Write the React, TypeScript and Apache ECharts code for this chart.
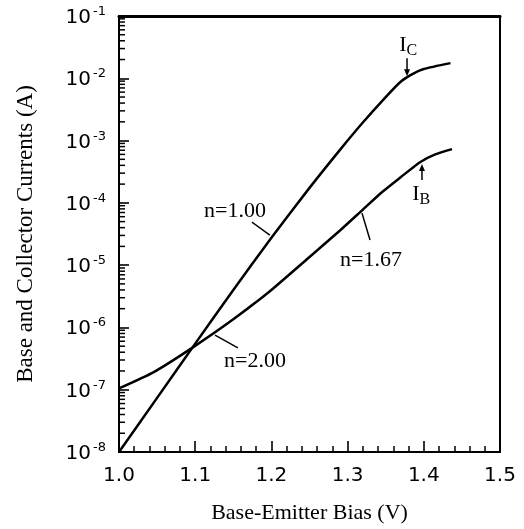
import React, { useEffect, useRef } from 'react';
import * as echarts from 'echarts';

// Collector current I_C vs base-emitter bias
const biasIC = [1.0, 1.05, 1.1, 1.15, 1.2, 1.25, 1.29, 1.32, 1.35, 1.37, 1.385, 1.4, 1.435];
const currentIC = [1.0e-8, 7.4e-8, 5.5e-7, 4.0e-6, 2.75e-5, 1.74e-4, 7.1e-4, 1.95e-3, 5.0e-3, 8.9e-3, 1.17e-2, 1.41e-2, 1.75e-2];

// Base current I_B vs base-emitter bias
const biasIB = [1.0, 1.045, 1.096, 1.15, 1.2, 1.25, 1.29, 1.32, 1.345, 1.37, 1.395, 1.415, 1.437];
const currentIB = [1.05e-7, 1.9e-7, 4.7e-7, 1.35e-6, 4.0e-6, 1.35e-5, 3.6e-5, 7.8e-5, 1.48e-4, 2.6e-4, 4.5e-4, 6.0e-4, 7.3e-4];

// Axis ranges
const xMin = 1.0;
const xMax = 1.5;
const xInterval = 0.1;
const yMin = 1e-8;
const yMax = 1e-1;
const yDecades = [-8, -7, -6, -5, -4, -3, -2];
const minorMultipliers = [2, 3, 4, 5, 6, 7, 8, 9];

// Annotations (data coordinates)
const idealityText = ['n=1.00', 'n=1.67', 'n=2.00'];
const idealityTextAt = [[1.1522, 7.9e-5], [1.3307, 1.3e-5], [1.1785, 3.1e-7]];
const idealityLeaderFrom = [[1.1745, 4.9e-5], [1.3189, 6.85e-5], [1.126, 7.55e-7]];
const idealityLeaderTo = [[1.198, 3.04e-5], [1.3294, 2.53e-5], [1.156, 4.68e-7]];

const currentLabelMain = ['I', 'I'];
const currentLabelSub = ['C', 'B'];
const currentLabelAt = [[1.3727, 3.67e-2], [1.3898, 1.49e-4]];
const arrowTail = [[1.378, 2.1e-2], [1.3976, 2.32e-4]];
const arrowHead = [[1.378, 1.08e-2], [1.3976, 4.2e-4]];

const serif = '"Liberation Serif", "Times New Roman", serif';
const sans = '"DejaVu Sans", sans-serif';

export default function App() {
  const ref = useRef<HTMLDivElement>(null);

  useEffect(() => {
    if (!ref.current) return;
    const chart = echarts.init(ref.current, undefined, { renderer: 'svg' });

    chart.setOption({
      animation: false,
      grid: { left: 119, right: 24, top: 16, bottom: 77 },
      xAxis: [
        {
          type: 'value',
          min: xMin,
          max: xMax,
          interval: xInterval,
          name: 'Base-Emitter Bias (V)',
          nameLocation: 'middle',
          nameGap: 48,
          nameTextStyle: { fontFamily: serif, fontSize: 22, color: '#000' },
          axisLine: { show: true, onZero: false, lineStyle: { color: '#000', width: 2 } },
          axisTick: { show: true, inside: true, length: 11, lineStyle: { color: '#000', width: 1.6 } },
          minorTick: { show: true, splitNumber: 5, length: 6, lineStyle: { color: '#000', width: 1.5 } },
          axisLabel: {
            margin: 12,
            fontFamily: sans,
            fontSize: 20,
            color: '#000',
            formatter: (v: number) => v.toFixed(1),
          },
          splitLine: { show: false },
        },
        {
          type: 'value',
          position: 'top',
          min: xMin,
          max: xMax,
          axisLine: { show: true, onZero: false, lineStyle: { color: '#000', width: 3 } },
          axisTick: { show: false },
          axisLabel: { show: false },
          splitLine: { show: false },
        },
      ],
      yAxis: [
        {
          type: 'log',
          logBase: 10,
          min: yMin,
          max: yMax,
          splitNumber: 7,
          name: 'Base and Collector Currents (A)',
          nameLocation: 'middle',
          nameGap: 83,
          nameTextStyle: { fontFamily: serif, fontSize: 23, color: '#000' },
          axisLine: { show: true, onZero: false, lineStyle: { color: '#000', width: 2 } },
          axisTick: { show: true, inside: true, length: 10, lineStyle: { color: '#000', width: 1.6 } },
          axisLabel: {
            margin: 13,
            formatter: (v: number) => `{b|10}{s|${Math.round(Math.log10(v))}}`,
            rich: {
              b: { fontFamily: sans, fontSize: 20, color: '#000', lineHeight: 24 },
              s: { fontFamily: sans, fontSize: 13, color: '#000', verticalAlign: 'top', lineHeight: 13, padding: [0, 0, 0, 2] },
            },
          },
          splitLine: { show: false },
        },
        {
          type: 'log',
          logBase: 10,
          position: 'right',
          min: yMin,
          max: yMax,
          axisLine: { show: true, onZero: false, lineStyle: { color: '#000', width: 2 } },
          axisTick: { show: false },
          axisLabel: { show: false },
          splitLine: { show: false },
        },
      ],
      series: [
        {
          type: 'line',
          name: 'IC',
          data: biasIC.map((x, i) => [x, currentIC[i]]),
          showSymbol: false,
          smooth: 0.2,
          lineStyle: { color: '#000', width: 2.5 },
          z: 5,
        },
        {
          type: 'line',
          name: 'IB',
          data: biasIB.map((x, i) => [x, currentIB[i]]),
          showSymbol: false,
          smooth: 0.2,
          lineStyle: { color: '#000', width: 2.5 },
          z: 5,
        },
      ],
    });

    const px = (p: number[]) => chart.convertToPixel({ seriesIndex: 0 }, p) as number[];
    const graphic: any[] = [];
    const seg = (x1: number, y1: number, x2: number, y2: number, w: number) =>
      graphic.push({
        type: 'line',
        shape: { x1, y1, x2, y2 },
        style: { stroke: '#000', lineWidth: w },
      });

    // minor y ticks at 2..9 of each decade
    yDecades.forEach((d) => {
      minorMultipliers.forEach((k) => {
        const q = px([xMin, k * Math.pow(10, d)]);
        seg(q[0], q[1], q[0] + 6, q[1], 1.5);
      });
    });

    idealityText.forEach((t, i) => {
      const a = px(idealityTextAt[i]);
      const f = px(idealityLeaderFrom[i]);
      const to = px(idealityLeaderTo[i]);
      graphic.push({
        type: 'text',
        x: a[0],
        y: a[1],
        style: {
          text: t,
          font: `22px ${serif}`,
          fill: '#000',
          align: 'center',
          verticalAlign: 'middle',
          textAlign: 'center',
          textVerticalAlign: 'middle',
        },
      });
      seg(f[0], f[1], to[0], to[1], 1.5);
    });

    currentLabelMain.forEach((t, i) => {
      const a = px(currentLabelAt[i]);
      graphic.push({
        type: 'text',
        x: a[0],
        y: a[1],
        style: {
          text: t,
          font: `22px ${serif}`,
          fill: '#000',
          align: 'center',
          verticalAlign: 'middle',
          textAlign: 'center',
          textVerticalAlign: 'middle',
        },
      });
      graphic.push({
        type: 'text',
        x: a[0] + 3.5,
        y: a[1] + 6,
        style: {
          text: currentLabelSub[i],
          font: `16px ${serif}`,
          fill: '#000',
          align: 'left',
          verticalAlign: 'middle',
          textAlign: 'left',
          textVerticalAlign: 'middle',
        },
      });
      const tail = px(arrowTail[i]);
      const head = px(arrowHead[i]);
      const dir = head[1] > tail[1] ? 1 : -1;
      seg(tail[0], tail[1], head[0], head[1] - dir * 4, 1.5);
      graphic.push({
        type: 'polygon',
        shape: {
          points: [
            [head[0] - 3, head[1] - dir * 7],
            [head[0] + 3, head[1] - dir * 7],
            [head[0], head[1]],
          ],
        },
        style: { fill: '#000' },
      });
    });

    chart.setOption({ graphic });

    return () => chart.dispose();
  }, []);

  return (
    <div
      ref={ref}
      style={{ position: 'fixed', left: 0, top: 0, width: 524, height: 529 }}
    />
  );
}
